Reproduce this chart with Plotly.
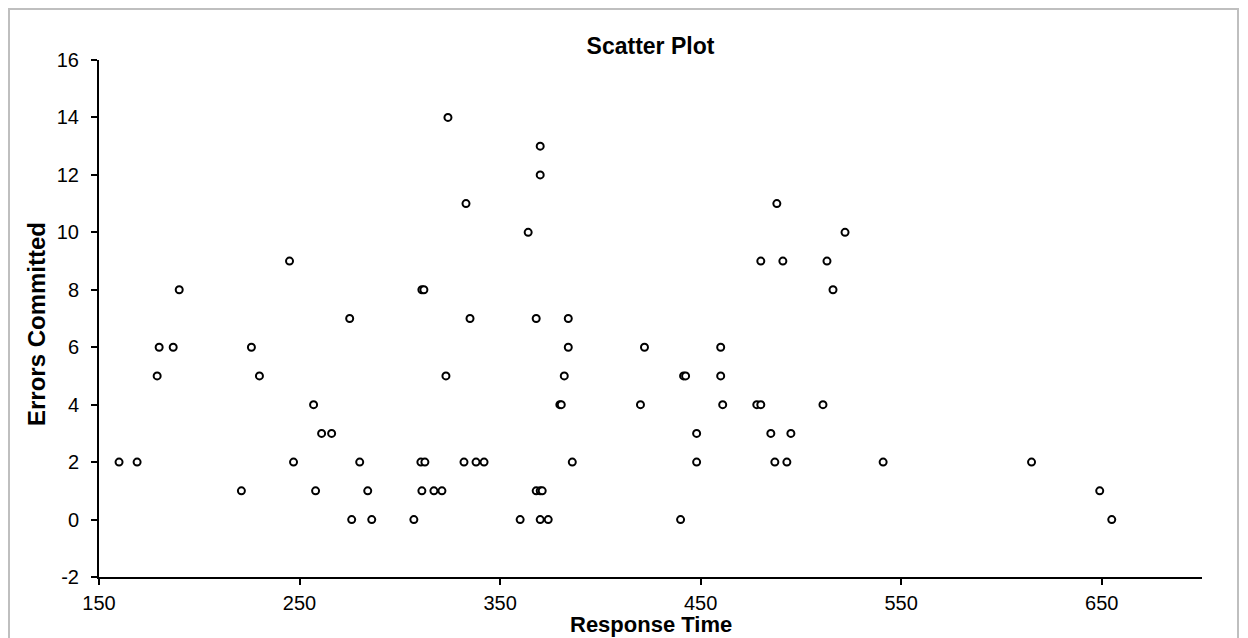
import plotly.graph_objects as go

# Data
response_time = [
    324,
    370,
    370,
    333, 488,
    364, 522,
    245, 480, 491, 513,
    190, 311, 312, 516,
    275, 335, 368, 384,
    180, 187, 226, 384, 422, 460,
    179, 230, 323, 382, 441.5, 442.5, 460,
    257, 379.8, 380.5, 420, 461, 478, 480, 511,
    261, 266, 448, 485, 495,
    160, 169, 247, 280, 310.5, 312.5, 332, 338, 342, 386, 448, 487, 493, 541, 615,
    221, 258, 284, 311, 317, 321, 368, 370, 371, 649,
    276, 286, 307, 360, 370, 374, 440, 655,
]
errors_committed = (
    [14]
    + [13]
    + [12]
    + [11] * 2
    + [10] * 2
    + [9] * 4
    + [8] * 4
    + [7] * 4
    + [6] * 6
    + [5] * 7
    + [4] * 8
    + [3] * 5
    + [2] * 15
    + [1] * 10
    + [0] * 8
)

x_ticks = [150, 250, 350, 450, 550, 650]
y_ticks = [-2, 0, 2, 4, 6, 8, 10, 12, 14, 16]

FONT = "Liberation Sans, Arial, sans-serif"

fig = go.Figure(
    go.Scatter(
        x=response_time,
        y=errors_committed,
        mode="markers",
        marker=dict(symbol="circle", size=7, color="white",
                    line=dict(color="black", width=2)),
        showlegend=False,
        cliponaxis=False,
    )
)

W, H = 1248, 638
L, R, T, B = 99, 46, 60, 61
pw, ph = W - L - R, H - T - B

def px_x(px):
    return (px - L) / pw

def px_y(py):
    return (H - B - py) / ph

fig.update_layout(
    width=W, height=H,
    margin=dict(l=L, r=R, t=T, b=B),
    paper_bgcolor="white", plot_bgcolor="white",
    font=dict(family=FONT, size=20, color="black"),
    title=dict(text="<b>Scatter Plot</b>", x=0.5, xref="paper",
               y=1 - 46 / H, yref="container", xanchor="center", yanchor="middle",
               font=dict(size=23, family=FONT, color="black")),
    xaxis=dict(range=[150, 700], tickvals=x_ticks, ticktext=[str(v) for v in x_ticks],
               showline=True, linecolor="black", linewidth=2,
               ticks="outside", ticklen=6, tickwidth=2, tickcolor="black",
               showgrid=False, zeroline=False, ticklabelstandoff=1,
               tickfont=dict(size=20)),
    yaxis=dict(range=[-2, 16], tickvals=y_ticks, ticktext=[str(v) for v in y_ticks],
               showline=True, linecolor="black", linewidth=2,
               ticks="outside", ticklen=6, tickwidth=2, tickcolor="black",
               showgrid=False, zeroline=False, ticklabelstandoff=8,
               tickfont=dict(size=20)),
    annotations=[
        dict(text="<b>Response Time</b>", xref="paper", yref="paper",
             x=0.5, y=px_y(624.5), xanchor="center", yanchor="middle",
             showarrow=False, borderpad=0,
             font=dict(size=22, family=FONT, color="black")),
        dict(text="<b>Errors Committed</b>", xref="paper", yref="paper",
             x=px_x(36), y=px_y(324), xanchor="center", yanchor="middle",
             textangle=-90, showarrow=False,
             font=dict(size=24, family=FONT, color="black")),
    ],
    shapes=[
        dict(type="rect", xref="paper", yref="paper",
             x0=px_x(9), x1=px_x(1238), y0=px_y(660), y1=px_y(9),
             line=dict(color="#BFBFBF", width=2), fillcolor="rgba(0,0,0,0)",
             layer="below"),
    ],
)

fig.write_html(
    "out.html",
    config={"displayModeBar": False},
    post_script="document.body.style.margin='0';document.body.style.overflow='hidden';",
)
